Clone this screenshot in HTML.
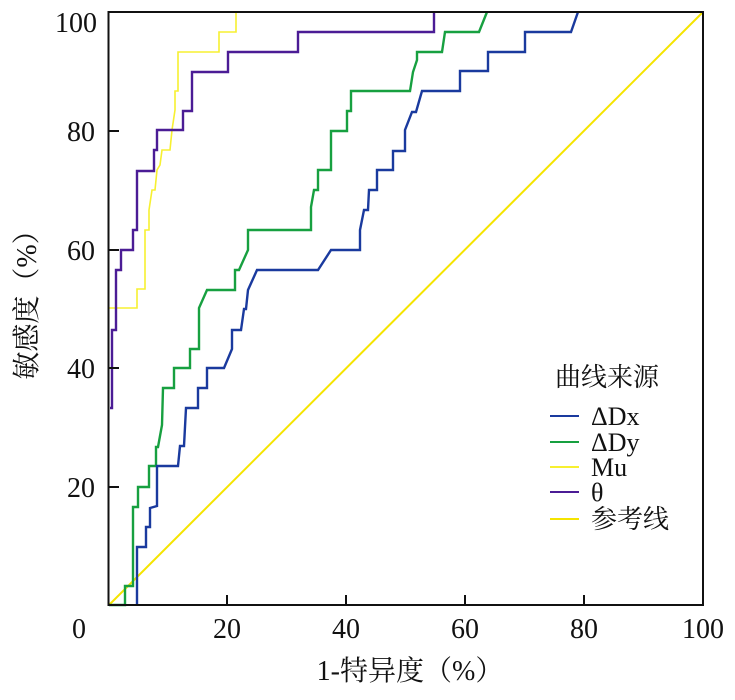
<!DOCTYPE html>
<html><head><meta charset="utf-8"><style>
html,body{margin:0;padding:0;background:#fff;}
svg{display:block;}
text{font-family:"Liberation Serif","Noto Serif CJK SC","Noto Sans CJK SC",serif;fill:#111;}
</style></head><body>
<svg width="735" height="700" viewBox="0 0 735 700" xmlns="http://www.w3.org/2000/svg">
<g fill="none" stroke-linejoin="miter">
<line x1="109" y1="605" x2="703" y2="12" stroke="#f5e400" stroke-width="2"/>
<polyline stroke="#f7f030" stroke-width="1.6" points="109,308 137,308 137,289 145,289 145,230 149,230 149,210 152,190 155,190 157,170 160,165 162,150 170,150 172,130 175,110 175,91 178,91 178,52 219,52 219,32 236,32 236,12"/>
<polyline stroke="#4b1c95" stroke-width="2.4" points="110,408 112,408 112,330 116,330 116,270 121,270 121,250 133,250 133,230 137,230 137,171 154,171 154,150 157,150 157,130 183,130 183,111 192,111 192,72 228,72 228,52 298,52 298,32 434,32 434,12"/>
<polyline stroke="#17a040" stroke-width="2.4" points="109,605 125,605 125,586 133,586 133,507 138,507 138,487 149,487 149,466 156,466 156,447 158,447 162,425 163,388 165,388 174,388 174,368 190,368 190,349 199,349 199,308 207,290 235,290 235,270 239,270 248,250 248,230 311,230 311,207 314,190 318,190 318,170 331,170 331,131 347,131 347,111 351,111 351,91 410,91 413,72 417,60 417,52 442,52 445,32 479,32 487,12"/>
<polyline stroke="#1a3a9e" stroke-width="2.4" points="137,605 137,547 146,547 146,527 150,527 150,508 157,506 157,466 178,466 180,446 184,446 186,408 198,408 198,388 207,388 207,368 224,368 232,349 232,330 241,330 244,309 246,309 248,290 257,270 318,270 331,250 360,250 360,230 364,210 368,210 369,190 377,190 377,170 393,170 393,151 405,151 405,130 412,112 416,112 422,91 460,91 460,71 488,71 488,52 525,52 525,32 571,32 578,12"/>
<rect x="108.5" y="12" width="594.5" height="593" stroke="#111" stroke-width="2"/>
<g stroke="#111" stroke-width="2">
<line x1="227" y1="605" x2="227" y2="595"/><line x1="346" y1="605" x2="346" y2="595"/>
<line x1="465" y1="605" x2="465" y2="595"/><line x1="584" y1="605" x2="584" y2="595"/>
<line x1="109" y1="131" x2="119" y2="131"/><line x1="109" y1="250" x2="119" y2="250"/>
<line x1="109" y1="368" x2="119" y2="368"/><line x1="109" y1="487" x2="119" y2="487"/>
</g>
<line x1="550" y1="416" x2="579" y2="416" stroke="#1a3a9e" stroke-width="2"/>
<line x1="550" y1="442" x2="579" y2="442" stroke="#17a040" stroke-width="2"/>
<line x1="550" y1="467" x2="579" y2="467" stroke="#f7f030" stroke-width="2"/>
<line x1="550" y1="492" x2="579" y2="492" stroke="#4b1c95" stroke-width="2"/>
<line x1="550" y1="519" x2="579" y2="519" stroke="#f5e400" stroke-width="2"/>
</g>
<g font-size="28">
<text x="97" y="32" text-anchor="end">100</text>
<text x="95" y="141" text-anchor="end">80</text>
<text x="95" y="260" text-anchor="end">60</text>
<text x="95" y="378" text-anchor="end">40</text>
<text x="95" y="497" text-anchor="end">20</text>
<text x="79" y="638" text-anchor="middle">0</text>
<text x="227" y="638" text-anchor="middle">20</text>
<text x="346" y="638" text-anchor="middle">40</text>
<text x="465" y="638" text-anchor="middle">60</text>
<text x="584" y="638" text-anchor="middle">80</text>
<text x="703" y="638" text-anchor="middle">100</text>
<text x="410" y="680" text-anchor="middle">1-特异度（%）</text>
<text transform="translate(36,298) rotate(-90)" text-anchor="middle">敏感度（%）</text>
</g>
<g font-size="26">
<text x="555" y="386">曲线来源</text>
<text x="591" y="425">ΔDx</text>
<text x="591" y="451">ΔDy</text>
<text x="591" y="476">Mu</text>
<text x="591" y="501">θ</text>
<text x="591" y="528">参考线</text>
</g>
</svg>
</body></html>
